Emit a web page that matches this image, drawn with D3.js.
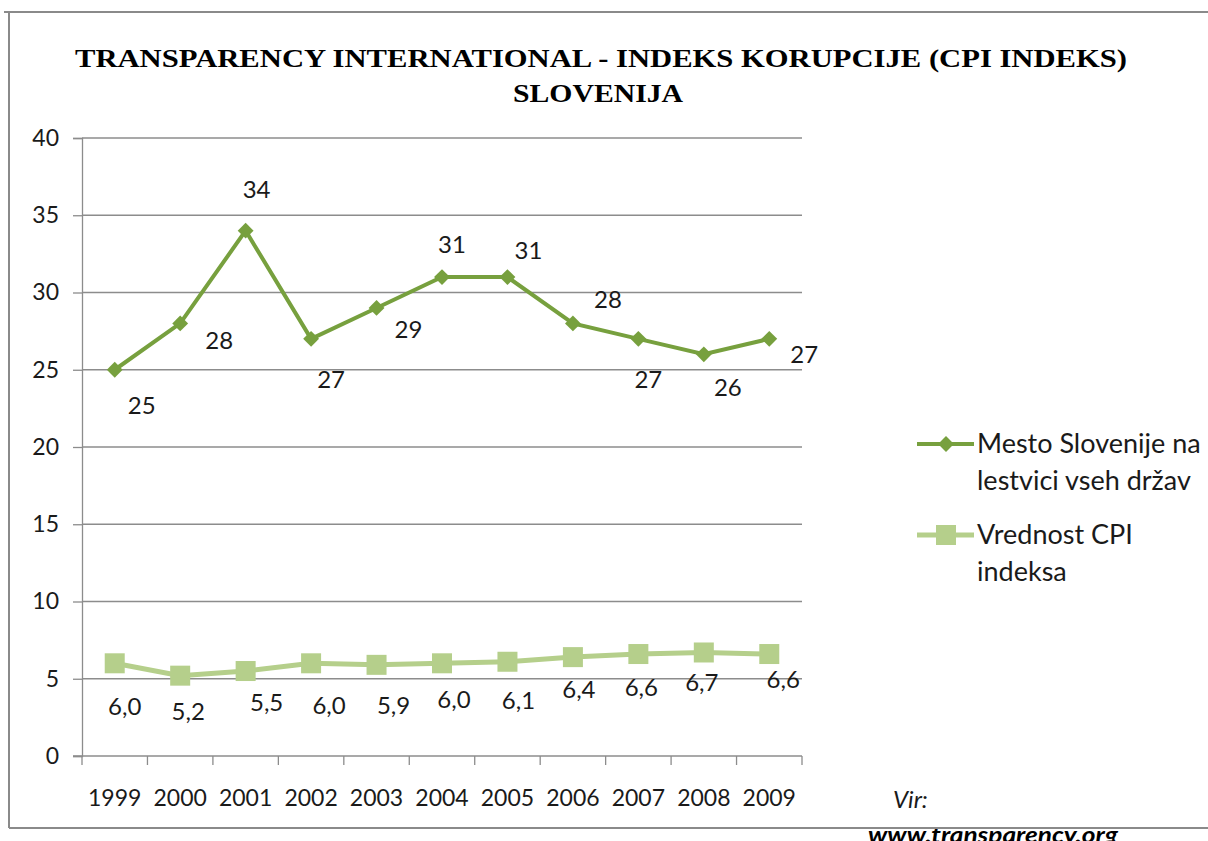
<!DOCTYPE html>
<html>
<head>
<meta charset="utf-8">
<script src="https://cdn.jsdelivr.net/npm/d3@7"></script>
<style>
  body { margin: 0; background: #fff; }
  svg { display: block; }
  text { font-family: Lato, "Open Sans", sans-serif; fill: #1a1a1a; }
</style>
</head>
<body>
<svg id="chart" width="1208" height="841"></svg>
<script>
// data
const years = ['1999', '2000', '2001', '2002', '2003', '2004', '2005', '2006', '2007', '2008', '2009'];
const rank = [25, 28, 34, 27, 29, 31, 31, 28, 27, 26, 27];
const cpi = [6.0, 5.2, 5.5, 6.0, 5.9, 6.0, 6.1, 6.4, 6.6, 6.7, 6.6];
const yTicks = [0, 5, 10, 15, 20, 25, 30, 35, 40];
const seriesNames = [['Mesto Slovenije na', 'lestvici vseh držav'], ['Vrednost CPI', 'indeksa']];
const titleLines = ['TRANSPARENCY INTERNATIONAL - INDEKS KORUPCIJE (CPI INDEKS)', 'SLOVENIJA'];

// where Excel put each data label, relative to its point
const rankLabelOff = [[27, 36], [39, 17], [11, -41], [20, 41], [32, 22], [10, -32], [21, -26], [35, -24], [10, 41], [24, 33], [35, 16]];
const cpiLabelOff = [[10, 43], [8, 36], [21, 32], [18, 42], [17, 41], [12, 36], [11, 39], [6, 32], [3, 34], [-2, 30], [14, 26]];

const dark = '#77a03e';
const light = '#b5cf8b';
const grid = '#8c8c8c';

const svg = d3.select('#chart');

const x = d3.scaleBand().domain(years).range([82, 802]);
const y = d3.scaleLinear().domain([0, 40]).range([756, 138]);
const cx = d => x(d) + x.bandwidth() / 2;

// title
const titleW = [1052, 170];
svg.selectAll('text.title')
    .data(titleLines)
    .join('text')
    .attr('class', 'title')
    .attr('x', (d, i) => i === 0 ? 601 : 598)
    .attr('y', (d, i) => i === 0 ? 67 : 102)
    .attr('text-anchor', 'middle')
    .attr('textLength', (d, i) => titleW[i])
    .attr('lengthAdjust', 'spacingAndGlyphs')
    .style('font-family', '"Liberation Serif", "DejaVu Serif", serif')
    .style('font-weight', 'bold')
    .style('font-size', '25px')
    .style('fill', '#000')
    .text(d => d);

// gridlines
svg.append('g')
    .selectAll('line')
    .data(yTicks.filter(d => d > 0))
    .join('line')
    .attr('x1', 82).attr('x2', 802)
    .attr('y1', d => y(d)).attr('y2', d => y(d))
    .attr('stroke', grid).attr('stroke-width', 1.3);

// y axis
const yAxis = svg.append('g')
    .attr('transform', 'translate(82,0)')
    .call(d3.axisLeft(y).tickValues(yTicks).tickSize(9).tickPadding(14).tickFormat(d3.format('d')));
yAxis.select('.domain').attr('stroke', grid).attr('stroke-width', 1.3);
yAxis.selectAll('.tick line').attr('stroke', grid).attr('stroke-width', 1.3);
yAxis.selectAll('.tick text').style('font-family', 'Lato, sans-serif').style('font-size', '23px').attr('fill', '#1a1a1a');

// x axis, ticks between categories
const xAxis = svg.append('g')
    .attr('transform', 'translate(0,756)');
xAxis.append('line')
    .attr('x1', 73).attr('x2', 802)
    .attr('stroke', grid).attr('stroke-width', 1.3);
xAxis.selectAll('line.tk')
    .data(years.concat(['end']))
    .join('line')
    .attr('class', 'tk')
    .attr('x1', (d, i) => i < years.length ? x(d) : x.range()[1])
    .attr('x2', (d, i) => i < years.length ? x(d) : x.range()[1])
    .attr('y1', 0).attr('y2', 9)
    .attr('stroke', grid).attr('stroke-width', 1.3);
xAxis.selectAll('text')
    .data(years)
    .join('text')
    .attr('x', d => cx(d))
    .attr('y', 42)
    .attr('dy', '0.35em')
    .attr('text-anchor', 'middle')
    .style('font-size', '23px')
    .text(d => d);

// lines
const line = d3.line().x((d, i) => cx(years[i])).y(d => y(d));

svg.append('path')
    .datum(cpi)
    .attr('d', line)
    .attr('fill', 'none')
    .attr('stroke', light)
    .attr('stroke-width', 5);

svg.append('path')
    .datum(rank)
    .attr('d', line)
    .attr('fill', 'none')
    .attr('stroke', dark)
    .attr('stroke-width', 4);

// markers
svg.append('g')
    .selectAll('rect')
    .data(cpi)
    .join('rect')
    .attr('x', (d, i) => cx(years[i]) - 10)
    .attr('y', d => y(d) - 10)
    .attr('width', 20).attr('height', 20)
    .attr('fill', light);

const diamond = d3.symbol().type(d3.symbolDiamond2).size(160);
svg.append('g')
    .selectAll('path')
    .data(rank)
    .join('path')
    .attr('d', diamond)
    .attr('transform', (d, i) => `translate(${cx(years[i])},${y(d)})`)
    .attr('fill', dark);

// data labels
svg.append('g')
    .selectAll('text')
    .data(rank)
    .join('text')
    .attr('x', (d, i) => cx(years[i]) + rankLabelOff[i][0])
    .attr('y', (d, i) => y(d) + rankLabelOff[i][1])
    .attr('dy', '0.35em')
    .attr('text-anchor', 'middle')
    .style('font-size', '24px')
    .text(d => d);

svg.append('g')
    .selectAll('text')
    .data(cpi)
    .join('text')
    .attr('x', (d, i) => cx(years[i]) + cpiLabelOff[i][0])
    .attr('y', (d, i) => y(d) + cpiLabelOff[i][1])
    .attr('dy', '0.35em')
    .attr('text-anchor', 'middle')
    .style('font-size', '24px')
    .text(d => d.toFixed(1).replace('.', ','));

// legend
const legend = svg.append('g');
const legendY = [444, 535];
const legendColor = [dark, light];
seriesNames.forEach((names, k) => {
    const g = legend.append('g').attr('transform', `translate(0,${legendY[k]})`);
    g.append('line')
        .attr('x1', 917).attr('x2', 974)
        .attr('stroke', legendColor[k])
        .attr('stroke-width', k === 0 ? 4 : 5);
    if (k === 0) {
        g.append('path').attr('d', diamond).attr('transform', 'translate(946,0)').attr('fill', dark);
    } else {
        g.append('rect').attr('x', 936).attr('y', -10).attr('width', 20).attr('height', 20).attr('fill', light);
    }
    g.selectAll('text')
        .data(names)
        .join('text')
        .attr('x', 977)
        .attr('y', (d, i) => i * 37)
        .attr('dy', '0.35em')
        .style('font-size', '27px')
        .text(d => d);
});

// source note
svg.append('text')
    .attr('x', 893).attr('y', 808)
    .style('font-size', '24px')
    .style('font-style', 'italic')
    .text('Vir:');
svg.append('text')
    .attr('x', 868).attr('y', 843)
    .attr('textLength', 250)
    .attr('lengthAdjust', 'spacingAndGlyphs')
    .style('font-size', '22px')
    .style('font-style', 'italic')
    .style('font-weight', 'bold')
    .style('fill', '#000')
    .text('www.transparency.org');

// frame
svg.append('path')
    .attr('d', 'M4,12 H1208 M9,12 V828 M9,828 H1208')
    .attr('fill', 'none')
    .attr('stroke', '#8a8a8a')
    .attr('stroke-width', 2);
</script>
</body>
</html>
